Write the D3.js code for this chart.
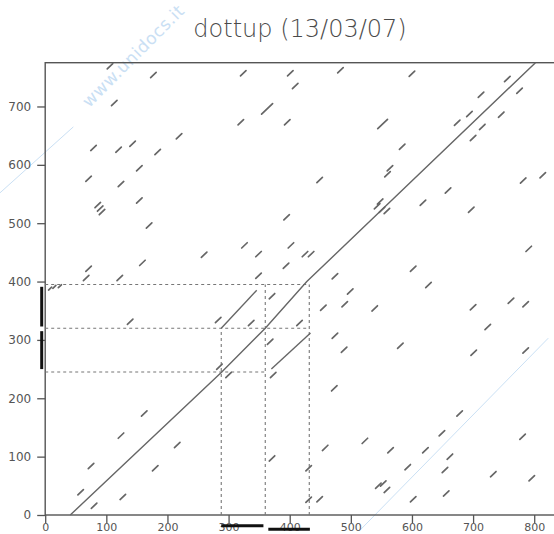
<!DOCTYPE html>
<html>
<head>
<meta charset="utf-8">
<script src="https://cdn.jsdelivr.net/npm/d3@7"></script>
<style>
  body { margin: 0; background: #fff; }
</style>
</head>
<body>
<div id="container"></div>
<script>
// sequence lengths (x = seq 1, y = seq 2)
const xLength = 834;
const yLength = 775;
const xTicks = [0, 100, 200, 300, 400, 500, 600, 700, 800];
const yTicks = [0, 100, 200, 300, 400, 500, 600, 700];

// main diagonal match
const mainDiag = [[41, 0], [288, 244], [360, 320], [428, 400], [802, 775]];
// repeat matches (off-diagonal)
const repeatDiags = [
    [[288, 320], [346, 385]],
    [[370, 250], [434, 312]]
];
// dashed guides: [y, xEnd] and [x, yEnd]
const hGuides = [[395, 432], [320, 432], [245, 360]];
const vGuides = [[288, 320], [360, 395], [432, 395]];
// repeat regions marked on the axes
const yRegions = [[323, 391], [250, 315]];
const xRegions = [[288, 357], [365, 433]];

// short word hits, centre [x, y]
const hits = [
    [106, 769], [177, 754], [324, 757], [401, 757], [409, 735], [113, 706], [320, 673], [396, 673],
    [219, 649], [79, 629], [120, 626], [143, 636], [184, 622], [154, 594], [71, 576], [124, 567],
    [86, 531], [90, 525], [93, 519], [154, 539], [170, 496], [395, 510], [260, 446], [326, 462],
    [349, 447], [402, 462], [394, 427], [71, 422], [159, 432], [349, 410], [67, 406], [122, 406],
    [483, 762], [600, 756], [756, 747], [776, 727], [713, 720], [674, 672], [694, 687], [746, 686],
    [715, 665], [700, 646], [584, 631], [564, 594], [560, 584], [449, 574], [782, 573], [814, 582],
    [659, 556], [618, 535], [697, 523], [548, 537], [543, 529], [551, 523], [559, 521], [791, 456],
    [425, 447], [435, 447], [474, 409], [602, 422],
    [139, 331], [283, 334], [337, 329], [371, 375], [285, 254], [300, 240], [373, 240], [368, 297],
    [162, 174], [124, 136], [216, 120], [75, 84], [180, 80], [371, 97], [58, 39], [127, 31],
    [80, 16], [416, 329],
    [627, 394], [499, 383], [455, 355], [490, 361], [539, 354], [700, 356], [762, 367], [786, 361],
    [474, 307], [489, 283], [581, 290], [724, 322], [701, 278], [786, 282], [473, 217], [678, 174],
    [649, 140], [523, 127], [458, 115], [565, 111], [622, 111], [662, 100], [781, 134], [593, 82],
    [654, 77], [733, 70], [796, 63], [545, 50], [553, 54], [559, 43], [449, 27], [602, 27],
    [656, 37], [431, 80], [431, 26]
];
const longHits = [[363, 696, 18], [552, 670, 16]];
const tinyHits = [[8, 388], [15, 391], [24, 392]];

const width = 554;
const height = 534;

const x = d3.scaleLinear().domain([0, xLength]).range([45.2, 555]);
const y = d3.scaleLinear().domain([0, yLength]).range([515, 62.7]);

const svg = d3.create("svg")
    .attr("width", width)
    .attr("height", height)
    .style("display", "block")
    .style("font-family", "'DejaVu Sans', sans-serif");

// watermark behind everything
const wm = svg.append("g").attr("stroke", "#cae0f4").attr("stroke-width", 1);
wm.append("line")
    .attr("x1", x(-74)).attr("y1", y(552))
    .attr("x2", x(46)).attr("y2", y(665));
wm.append("line")
    .attr("x1", x(515)).attr("y1", y(-26))
    .attr("x2", x(823)).attr("y2", y(303));
svg.append("text")
    .attr("transform", `translate(${x(72)},${y(697)}) rotate(-45)`)
    .attr("fill", "#cae0f4")
    .attr("font-size", 17)
    .attr("letter-spacing", 0.6)
    .text("www.unidocs.it");

// title
svg.append("text")
    .attr("x", 300)
    .attr("y", 37)
    .attr("text-anchor", "middle")
    .attr("font-size", 24)
    .attr("font-weight", 200)
    .attr("fill", "#4a4a4a")
    .text("dottup (13/03/07)");

// axes
const yAxis = svg.append("g")
    .attr("transform", `translate(${x(0)},0)`)
    .call(d3.axisLeft(y).tickValues(yTicks).tickSize(8).tickPadding(6));
const xAxis = svg.append("g")
    .attr("transform", `translate(0,${y(0)})`)
    .call(d3.axisBottom(x).tickValues(xTicks).tickSize(8).tickPadding(0));

[xAxis, yAxis].forEach(a => {
    a.select(".domain").remove();
    a.selectAll(".tick line").attr("stroke", "#555").attr("stroke-width", 1.3);
    a.selectAll(".tick text").attr("fill", "#555")
        .style("font-family", "'DejaVu Sans', sans-serif");
});
yAxis.selectAll(".tick text").attr("font-size", 12);
xAxis.selectAll(".tick text").attr("font-size", 11);

// frame
svg.append("rect")
    .attr("x", x(0))
    .attr("y", y(yLength))
    .attr("width", x(xLength) - x(0))
    .attr("height", y(0) - y(yLength))
    .attr("fill", "none")
    .attr("stroke", "#555")
    .attr("stroke-width", 1.4);

// dashed guides
const guides = svg.append("g")
    .attr("stroke", "#777")
    .attr("stroke-width", 1.1)
    .attr("stroke-dasharray", "3,3");
guides.selectAll(".h").data(hGuides).join("line")
    .attr("x1", x(0)).attr("x2", d => x(d[1]))
    .attr("y1", d => y(d[0])).attr("y2", d => y(d[0]));
guides.selectAll(".v").data(vGuides).join("line")
    .attr("x1", d => x(d[0])).attr("x2", d => x(d[0]))
    .attr("y1", y(0)).attr("y2", d => y(d[1]));

// diagonals
const line = d3.line().x(d => x(d[0])).y(d => y(d[1]));
svg.append("path")
    .attr("d", line(mainDiag))
    .attr("fill", "none")
    .attr("stroke", "#666")
    .attr("stroke-width", 1.4);
svg.append("g").selectAll("path").data(repeatDiags).join("path")
    .attr("d", line)
    .attr("fill", "none")
    .attr("stroke", "#666")
    .attr("stroke-width", 1.4);

// short hits
const allHits = hits.map(d => [d[0], d[1], 9])
    .concat(longHits)
    .concat(tinyHits.map(d => [d[0], d[1], 5]));
svg.append("g").selectAll("line").data(allHits).join("line")
    .attr("x1", d => x(d[0] - d[2] / 2)).attr("y1", d => y(d[1] - d[2] / 2))
    .attr("x2", d => x(d[0] + d[2] / 2)).attr("y2", d => y(d[1] + d[2] / 2))
    .attr("stroke", "#666")
    .attr("stroke-width", 1.7)
    .attr("stroke-linecap", "round");

// region bars
svg.append("g").selectAll("line").data(yRegions).join("line")
    .attr("x1", x(0) - 3.5).attr("x2", x(0) - 3.5)
    .attr("y1", d => y(d[0])).attr("y2", d => y(d[1]))
    .attr("stroke", "#111")
    .attr("stroke-width", 3);
svg.append("g").selectAll("line").data(xRegions).join("line")
    .attr("x1", d => x(d[0])).attr("x2", d => x(d[1]))
    .attr("y1", (d, i) => y(0) + (i === 0 ? 10.7 : 14.3))
    .attr("y2", (d, i) => y(0) + (i === 0 ? 10.7 : 14.3))
    .attr("stroke", "#111")
    .attr("stroke-width", 3);

document.getElementById("container").appendChild(svg.node());
</script>
</body>
</html>
